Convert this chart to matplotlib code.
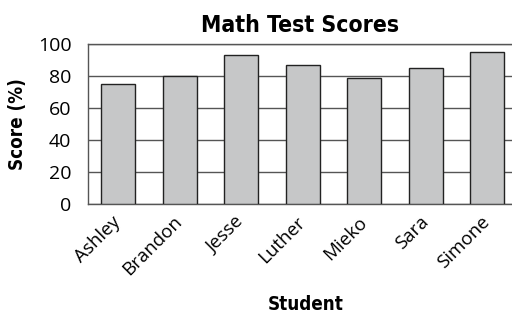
import matplotlib.pyplot as plt
import numpy as np
from matplotlib import font_manager

students = ["Ashley", "Brandon", "Jesse", "Luther", "Mieko", "Sara", "Simone"]
scores = [75, 80, 93, 87, 79, 85, 95]
y_ticks = [0, 20, 40, 60, 80, 100]

# pick a narrow bold face for the headings if one is around
entries = font_manager.fontManager.ttflist
narrow = None
for e in entries:
    if ("Condensed" in e.name or "Narrow" in e.name or "condensed" in str(e.stretch)) \
            and e.weight in ("bold", 700, "semibold", 600):
        narrow = e.fname
        break
if narrow is not None:
    head = dict(fontproperties=font_manager.FontProperties(fname=narrow))
else:
    head = dict(family="Roboto", fontweight="bold")
body = "Open Sans"

fig = plt.figure(figsize=(5.12, 3.2), dpi=100)
ax = fig.add_axes([0.172, 0.3625, 0.83, 0.5])

x = np.arange(len(students))
ax.bar(x, scores, width=0.55, color="#c6c7c8", edgecolor="#222222", linewidth=1.0, zorder=3)

ax.set_ylim(0, 100)
ax.set_xlim(-0.49, 6.42)
ax.set_yticks(y_ticks)
ax.set_yticklabels([str(v) for v in y_ticks], family=body, fontsize=14)
ax.yaxis.grid(True, color="#555555", linewidth=1.0, zorder=0)
ax.tick_params(axis="y", length=0, pad=12)
ax.tick_params(axis="x", length=0, pad=11)

ax.set_xticks(x)
ax.set_xticklabels(students, rotation=45, ha="right", va="center",
                   rotation_mode="anchor", family=body, fontsize=13.5)

for side in ["top", "left", "bottom"]:
    ax.spines[side].set_color("#555555")
    ax.spines[side].set_linewidth(1.0)
ax.spines["right"].set_visible(False)

t = ax.set_title("Math Test Scores", pad=9, **head)
t.set_fontsize(16.5)
yl = ax.set_ylabel("Score (%)", labelpad=8, **head)
yl.set_fontsize(13.5)
st = fig.text(0.598, 0.05, "Student", ha="center", va="center", **head)
st.set_fontsize(13.5)

fig.savefig("out.png", dpi=100)
